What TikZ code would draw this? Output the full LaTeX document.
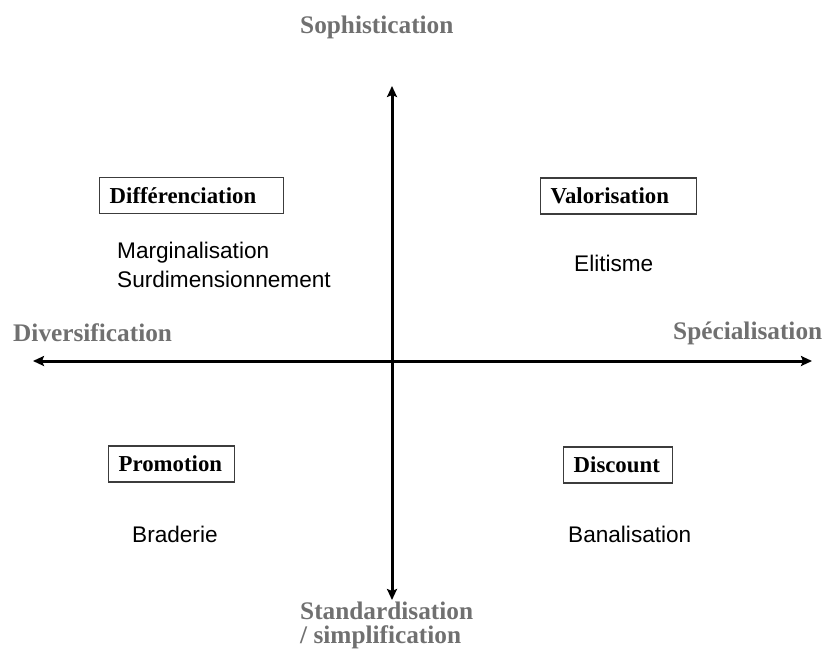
\documentclass[tikz,border=0pt]{standalone}
\usepackage{fontspec}
\setmainfont{Liberation Serif}
\newfontfamily\sansf{Liberation Sans}
\usetikzlibrary{arrows.meta}
\definecolor{axislabel}{RGB}{112,112,112}
\definecolor{boxline}{RGB}{60,60,60}
\begin{document}
\begin{tikzpicture}[x=1pt,y=-1pt,
  axis/.style={line width=3pt,black,
    {Stealth[length=11pt,width=10pt,inset=2pt]}-{Stealth[length=11pt,width=10pt,inset=2pt]}},
  axislbl/.style={font=\fontsize{25.3}{30}\selectfont\bfseries,text=axislabel,inner sep=0pt,anchor=base west},
  quadbox/.style={draw=boxline,line width=1.4pt,font=\fontsize{22.8}{27}\selectfont\bfseries,
    inner xsep=10pt,inner ysep=0pt,minimum height=36pt,align=left,anchor=west},
  item/.style={font=\sansf\fontsize{22.6}{29}\selectfont,inner sep=0pt,anchor=base west,align=left}]
\useasboundingbox (0,0) rectangle (825,651);

% axes
\coordinate (top) at (392,86);
\coordinate (bottom) at (392,600);
\coordinate (west) at (33,361);
\coordinate (east) at (812,361);
\draw[axis] (bottom) -- (top);
\draw[axis] (west) -- (east);

% axis labels
\node[axislbl] (soph) at (300,33) {Sophistication};
\node[axislbl] (divers) at (13,341) {Diversification};
\node[axislbl] (spec) at (673,339) {Spécialisation};
\node[axislbl] (std) at (300,619) {Standardisation};
\node[axislbl] (simpl) at (300,643) {/ simplification};

% quadrant boxes
\node[quadbox,text width=164pt] (diff) at (99,195.5) {Différenciation};
\node[quadbox,text width=136pt] (valo) at (540,196) {Valorisation};
\node[quadbox,text width=106pt] (promo) at (108,464) {Promotion};
\node[quadbox,text width=89pt] (disc) at (563,465) {Discount};

% quadrant contents
\node[item] (marg) at (117,258) {Marginalisation};
\node[item] (surd) at (117,287) {Surdimensionnement};
\node[item] (elit) at (574,271) {Elitisme};
\node[item] (brad) at (132,542) {Braderie};
\node[item] (banal) at (568,542) {Banalisation};
\end{tikzpicture}
\end{document}
